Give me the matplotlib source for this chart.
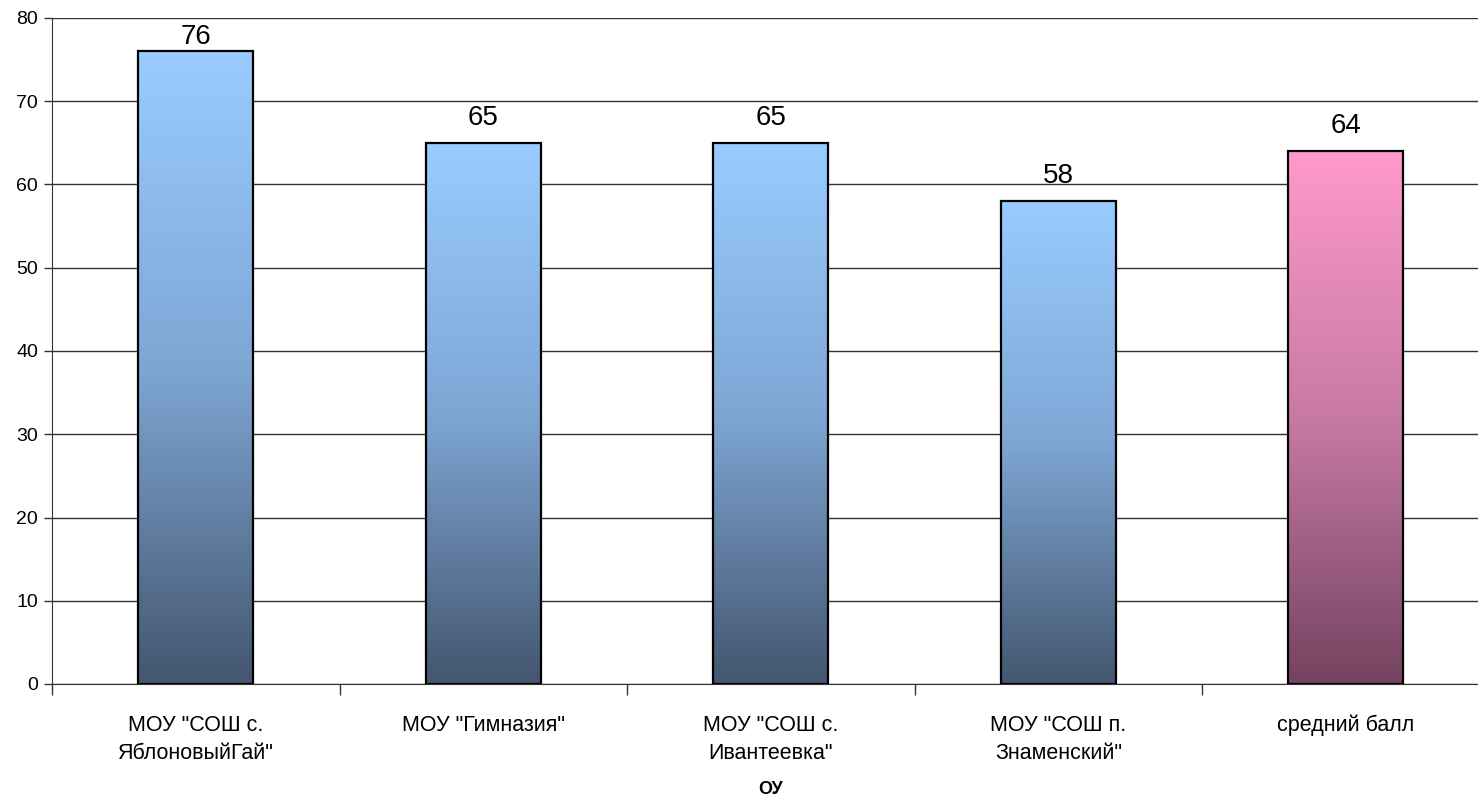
import numpy as np
import matplotlib
matplotlib.use("Agg")
import matplotlib.pyplot as plt
from matplotlib.colors import LinearSegmentedColormap

plt.rcParams['font.family'] = ['Liberation Sans', 'DejaVu Sans']

categories = ['МОУ "СОШ с.\nЯблоновыйГай"', 'МОУ "Гимназия"', 'МОУ "СОШ с.\nИвантеевка"',
              'МОУ "СОШ п.\nЗнаменский"', 'средний балл']
values = [76, 65, 65, 58, 64]
x_label = 'ОУ'

blue = LinearSegmentedColormap.from_list('blue', ['#44566f', '#7ea6d4', '#99ccff'])
pink = LinearSegmentedColormap.from_list('pink', ['#744360', '#c77aa3', '#ff99cc'])
bar_cmaps = [blue, blue, blue, blue, pink]

fig = plt.figure(figsize=(14.78, 8), dpi=100)
ax = fig.add_axes([0.0352, 0.145, 0.9726, 0.8325])

x = np.arange(len(values))
bars = ax.bar(x, values, width=0.4, color='none', edgecolor='black', linewidth=1.6, zorder=3)

ymax = 80
grad = np.linspace(0, 1, 256).reshape(-1, 1)
for b, cm in zip(bars, bar_cmaps):
    x0, w, h = b.get_x(), b.get_width(), b.get_height()
    im = ax.imshow(grad, cmap=cm, origin='lower', aspect='auto',
                   extent=[x0, x0 + w, 0, h], zorder=2)
    im.set_clip_path(b)
    # label sits above the bar, but is kept inside the plot area (as Excel does)
    ax.text(x0 + w / 2, min(h + 3.0, ymax - 2.3), str(int(h)),
            ha='center', va='center', fontsize=20, zorder=4)

ax.set_xlim(-0.5, len(values) - 0.5)
ax.set_ylim(0, ymax)
ax.set_yticks(range(0, ymax + 1, 10))
ax.yaxis.grid(True, color='#333333', linewidth=1.0, zorder=0)
ax.set_axisbelow(True)

ax.set_xticks(np.arange(len(values) + 1) - 0.5)
ax.set_xticklabels([])
ax.set_xticks(x, minor=True)
ax.set_xticklabels(categories, minor=True, fontsize=15.5, linespacing=1.45)
ax.tick_params(axis='x', which='minor', length=0, pad=22)
ax.tick_params(axis='x', which='major', length=8, width=1, color='#333333')
ax.tick_params(axis='y', length=6, width=1, color='#333333', labelsize=14, pad=4)

for s in ['top', 'right']:
    ax.spines[s].set_visible(False)
ax.spines['left'].set_color('#333333')
ax.spines['bottom'].set_color('#333333')

ax.set_xlabel(x_label, fontsize=13, fontweight='bold', va='center')
ax.xaxis.set_label_coords(0.5, -0.159)

fig.savefig('out.png', dpi=100)
